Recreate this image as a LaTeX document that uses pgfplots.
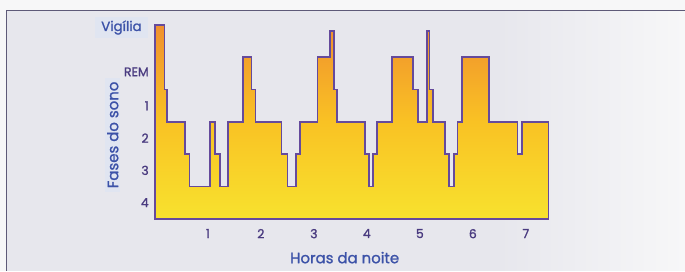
\documentclass[border=0pt]{standalone}
\usepackage{pgfplots}
\pgfplotsset{compat=1.18}
\usepackage{fontspec}
\setmainfont{Poppins}[FakeBold=1.2]
\definecolor{bgc}{HTML}{E7E7ED}
\definecolor{outc}{HTML}{F7F7F8}
\definecolor{framec}{HTML}{5E5A78}
\definecolor{linec}{HTML}{654A9C}
\definecolor{topc}{HTML}{F0902E}
\definecolor{midc}{HTML}{F9C224}
\definecolor{botc}{HTML}{F8E22E}
\definecolor{vblue}{HTML}{3C52A8}
\definecolor{tpurp}{HTML}{4A3B80}
\definecolor{boxc}{HTML}{E0E5F1}
\begin{document}
\begin{tikzpicture}
% background
\fill[outc] (0bp,0bp) rectangle (685bp,271bp);
\fill[bgc] (7bp,0bp) rectangle (500bp,260bp);
\shade[left color=bgc, right color=outc] (499bp,0bp) rectangle (685bp,260bp);
\draw[framec, line width=1bp] (7bp,0bp) -- (7bp,260bp) -- (685bp,260bp);
\begin{axis}[
  at={(155bp,52bp)}, anchor=south west,
  scale only axis, width=394bp, height=194bp,
  xmin=0, xmax=7.43, ymin=0, ymax=6,
  y dir=reverse,
  axis line style={draw=none},
  major tick length=0pt,
  xtick={1,2,3,4,5,6,7},
  xticklabels={1,2,3,4,5,6,7},
  ytick={0,1.45,2.5,3.5,4.5,5.5},
  yticklabels={{\raisebox{-6bp}[0pt][0pt]{\fontsize{13.5}{15}\selectfont\color{vblue}\colorbox{boxc}{\hspace*{3bp}Vigília\hspace*{3bp}}}\hspace*{1bp}},REM,1,2,3,4},
  tick label style={font=\fontsize{12.5}{14}\selectfont, text=tpurp},
  xticklabel style={anchor=north, inner sep=0pt, yshift=-10bp},
  yticklabel style={anchor=east, inner sep=0pt, xshift=-6bp},
  xlabel={Horas da noite},
  ylabel={Fases do sono},
  label style={font=\fontsize{15}{17}\selectfont, text=vblue},
  xlabel style={at={(axis description cs:0.482,-0.2)}, anchor=center},
  ylabel style={at={(axis description cs:-0.107,0.433)}, anchor=center, rotate=0, fill=boxc, inner xsep=4bp, inner ysep=2bp},
  clip=false,
]
\addplot[const plot, draw=linec, line width=1.6bp, top color=topc, bottom color=botc, middle color=midc] coordinates {
(0,0) (0.18,2) (0.23,3) (0.57,4) (0.65,5) (1.04,3) (1.13,4) (1.23,5) (1.38,3)
(1.66,1) (1.82,2) (1.90,3) (2.39,4) (2.50,5) (2.66,4) (2.74,3)
(3.07,1) (3.30,0.18) (3.38,2) (3.44,3) (3.96,4) (4.04,5) (4.12,4) (4.19,3)
(4.48,1) (4.87,2) (4.97,3) (5.13,0.18) (5.18,2) (5.25,3) (5.47,4) (5.55,5)
(5.65,4) (5.71,3) (5.79,1) (6.31,3) (6.84,4) (6.93,3) (7.43,3)
(7.43,6) (0,6)
} -- cycle;
\end{axis}
\end{tikzpicture}
\end{document}
